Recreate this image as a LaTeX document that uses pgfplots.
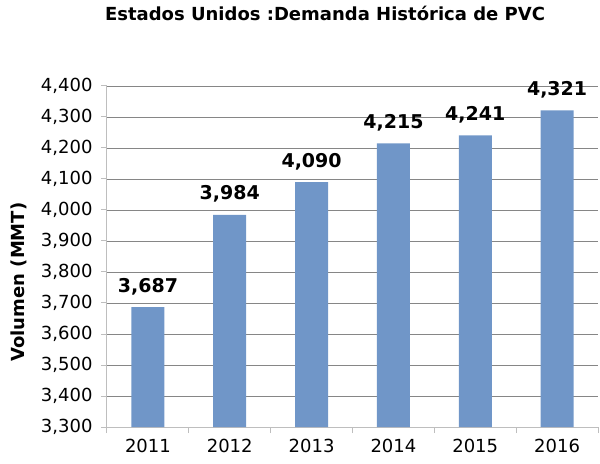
\documentclass[border=0pt]{standalone}
\usepackage{fontspec}
\setmainfont{DejaVu Sans}
\usepackage{pgfplots}
\pgfplotsset{compat=1.18}
\definecolor{barblue}{RGB}{112,150,200}
\definecolor{gridc}{RGB}{134,134,134}
\definecolor{axc}{RGB}{190,190,190}
\begin{document}
\begin{tikzpicture}
\begin{axis}[
  scale only axis, width=491bp, height=341bp,
  xmin=-0.5, xmax=5.5, ymin=3300, ymax=4400,
  axis x line*=bottom, axis y line*=left,
  axis line style={axc, line width=1bp},
  ytick distance=100,
  ymajorgrids, grid style={gridc, line width=0.8bp},
  xtick={0,1,2,3,4,5},
  xticklabels={2011,2012,2013,2014,2015,2016},
  major x tick style={draw=none},
  minor xtick={-0.5,0.5,1.5,2.5,3.5,4.5,5.5},
  minor x tick style={axc, line width=1bp},
  minor tick length=6bp,
  major tick length=6bp,
  tick align=outside,
  y tick style={axc, line width=1bp},
  tick label style={font=\fontsize{18bp}{21bp}\selectfont, text=black},
  yticklabel style={xshift=-5bp},
  xticklabel style={yshift=-3bp},
  /pgf/number format/.cd, fixed, 1000 sep={,}, assume math mode=true, /pgfplots/.cd,
  title={Estados Unidos :Demanda Histórica de PVC},
  title style={font=\bfseries\fontsize{18bp}{21bp}\selectfont, at={(axis description cs:0.444,1.195)}, anchor=center},
  ylabel={Volumen (MMT)},
  ylabel style={font=\bfseries\fontsize{18bp}{21bp}\selectfont, at={(axis description cs:-0.179,0.425)}, anchor=center, rotate=0},
  nodes near coords,
  every node near coord/.append style={font=\bfseries\fontsize{19bp}{22bp}\selectfont, anchor=base, yshift=15bp, text=black},
  clip=false,
]
\addplot[ybar, bar width=33bp, fill=barblue, draw=none] coordinates {(0,3687) (1,3984) (2,4090) (3,4215) (4,4241) (5,4321)};
\end{axis}
\pgfresetboundingbox
\path[use as bounding box] (-107bp,-37bp) rectangle (493bp,427bp);
\end{tikzpicture}
\end{document}
